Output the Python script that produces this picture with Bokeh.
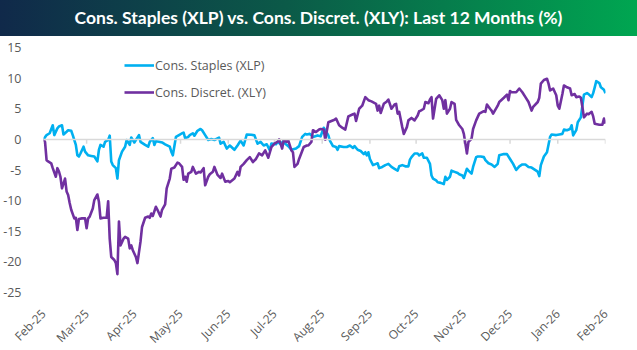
import pandas as pd
from bokeh.plotting import figure
from bokeh.models import (Range1d, FixedTicker, DatetimeTickFormatter, Span, Legend,
                          LegendItem, Div)
from bokeh.layouts import column
from bokeh.embed import file_html
from bokeh.resources import INLINE
import math

TITLE = "Cons. Staples (XLP) vs. Cons. Discret. (XLY): Last 12 Months (%)"
START = "2025-02-18"
END = "2026-02-18"
SERIES_NAMES = ["Cons. Staples (XLP)", "Cons. Discret. (XLY)"]
Y_TICKS = [15, 10, 5, 0, -5, -10, -15, -20, -25]
Y_TICK_LABELS = ["15", "10", "5", "0", "-5", "-10", "-15", "-20", "-25"]

# days since START, value (%)
xlp_days = [0, 2, 4, 6, 7, 9, 10, 12, 13, 15, 16, 18, 19, 21, 22, 23, 24, 26, 27, 29,
            31, 33, 35, 36, 37, 39, 40, 42, 43, 44, 45, 47, 48, 49, 51, 53, 54, 56, 57, 59,
            62, 63, 66, 68, 69, 71, 72, 73, 75, 77, 79, 82, 83, 84, 86, 88, 90, 91, 92, 94,
            95, 97, 98, 100, 102, 103, 105, 107, 109, 111, 114, 115, 117, 119, 121, 124, 126, 128, 130, 132,
            135, 137, 139, 141, 143, 145, 147, 148, 151, 152, 154, 156, 157, 159, 161, 164, 166, 168, 170, 171,
            173, 175, 178, 180, 182, 183, 185, 186, 188, 190, 191, 192, 195, 197, 199, 201, 202, 204, 206, 208,
            209, 210, 211, 212, 214, 216, 217, 218, 220, 222, 224, 226, 228, 230, 231, 233, 235, 237, 238, 239,
            241, 243, 244, 246, 247, 249, 251, 252, 253, 255, 256, 258, 260, 261, 262, 264, 265, 267, 269, 270,
            272, 273, 275, 276, 278, 279, 281, 282, 284, 286, 287, 289, 291, 293, 295, 296, 299, 301, 303, 305,
            307, 309, 311, 313, 315, 317, 320, 321, 322, 323, 325, 327, 329, 330, 333, 335, 337, 338, 340, 342,
            343, 344, 346, 347, 349, 350, 351, 353, 354, 356, 357, 358, 359, 361, 362, 364, 365]
xlp_vals = [0.0, 0.7, 1.0, 2.3, 0.7, 1.8, 2.1, 2.3, 0.8, 1.25, 1.5, 1.4, 0.7, -0.9, -2.6, -2.8, -2.3, -1.2, -2.0, -2.6,
            -2.7, -2.8, -3.6, -1.7, -0.9, -1.2, -0.4, -0.1, 0.6, -3.6, -4.2, -4.7, -6.4, -3.4, -2.0, -1.2, -0.1, -0.9, 0.3, -0.5,
            0.7, -0.4, -0.9, -1.2, -0.4, 0.2, -0.9, -0.3, -0.4, -0.5, -0.8, -1.2, -2.0, -2.6, 0.4, 0.7, 1.0, 1.1, 0.2, 0.4,
            0.7, 1.0, 0.6, 1.4, 1.7, 1.5, 0.7, -0.1, 0.05, -0.1, 0.3, -0.7, -0.4, -1.5, -1.0, -1.7, -1.0, -0.2, -1.0, 0.8,
            0.75, 0.65, -0.7, -0.4, -1.0, -0.8, -1.8, -0.7, -0.8, -0.4, -0.8, -0.2, -0.7, -1.1, -1.7, -1.5, -1.1, 0.4, 0.9, 0.8,
            0.9, 0.4, 0.65, 0.5, 1.9, 1.5, 0.65, -0.2, -1.1, -1.25, -1.7, -1.1, -1.25, -1.25, -1.0, -1.4, -1.1, -1.7, -1.9, -2.4,
            -2.1, -2.6, -2.1, -3.2, -4.2, -4.0, -3.9, -4.7, -4.5, -4.2, -4.0, -4.5, -4.8, -5.1, -4.4, -4.2, -4.4, -4.4, -3.3, -2.9,
            -2.3, -2.3, -2.6, -2.3, -3.0, -3.0, -4.0, -5.9, -6.4, -6.7, -7.0, -7.1, -7.3, -6.1, -6.6, -6.1, -5.1, -5.3, -5.5, -5.7,
            -5.9, -6.3, -4.8, -5.1, -5.6, -4.5, -2.9, -2.8, -2.8, -2.9, -3.4, -3.9, -4.1, -4.5, -4.0, -2.6, -2.4, -2.4, -3.2, -4.0,
            -5.0, -4.4, -4.1, -4.1, -4.5, -4.6, -5.1, -5.3, -6.0, -4.2, -2.8, -2.1, 0.4, 0.8, 0.7, 0.8, 0.9, 1.6, 1.5, 1.7,
            2.3, 0.65, 1.5, 2.8, 3.6, 5.5, 7.3, 7.55, 7.4, 6.9, 7.55, 8.5, 9.5, 9.2, 8.5, 8.1, 7.55]

xly_days = [0, 1, 2, 3, 5, 6, 8, 9, 10, 11, 12, 14, 15, 16, 17, 18, 20, 21, 22, 23,
            25, 27, 28, 29, 30, 32, 33, 35, 36, 37, 39, 41, 42, 43, 44, 46, 47, 48, 49, 50,
            52, 53, 55, 56, 57, 58, 60, 61, 63, 64, 66, 68, 69, 70, 71, 73, 74, 76, 77, 79,
            80, 82, 83, 85, 87, 88, 90, 91, 92, 93, 94, 96, 97, 99, 101, 102, 104, 105, 107, 108,
            110, 111, 113, 115, 116, 118, 120, 121, 124, 126, 127, 128, 130, 132, 134, 136, 138, 140, 142, 144,
            146, 148, 150, 152, 153, 155, 156, 158, 159, 161, 162, 163, 165, 166, 169, 171, 172, 174, 175, 177,
            179, 180, 182, 183, 185, 187, 189, 190, 192, 194, 196, 198, 201, 202, 203, 205, 207, 209, 211, 213,
            216, 217, 218, 219, 221, 223, 224, 226, 228, 229, 230, 231, 233, 234, 236, 237, 239, 241, 243, 244,
            245, 247, 248, 250, 251, 252, 253, 255, 256, 257, 259, 260, 261, 262, 264, 265, 267, 268, 270, 272,
            273, 274, 275, 276, 278, 279, 281, 283, 286, 287, 288, 290, 291, 292, 295, 296, 299, 301, 302, 303,
            304, 307, 309, 311, 313, 315, 317, 318, 321, 322, 323, 325, 327, 328, 329, 331, 333, 334, 335, 337,
            338, 340, 342, 343, 345, 346, 348, 349, 350, 351, 353, 354, 356, 357, 358, 361, 363, 364, 365]
xly_vals = [0.0, -0.4, -3.4, -3.6, -3.9, -4.7, -6.1, -4.7, -5.2, -6.1, -8.0, -6.4, -8.5, -9.1, -10.4, -11.5, -12.9, -12.8, -14.8, -13.0,
            -12.9, -12.9, -14.5, -12.9, -12.6, -11.3, -9.9, -9.0, -10.2, -12.9, -12.8, -12.8, -10.1, -16.2, -19.2, -19.7, -20.2, -22.0, -13.4, -17.3,
            -16.2, -15.9, -16.2, -17.8, -17.3, -18.1, -19.2, -20.2, -16.7, -14.3, -12.8, -12.6, -12.8, -12.1, -12.5, -11.0, -11.5, -12.6, -11.5, -10.6,
            -8.0, -6.4, -4.8, -4.6, -3.8, -3.9, -4.5, -6.6, -6.1, -6.9, -5.6, -5.3, -4.5, -5.6, -5.3, -5.4, -4.7, -7.5, -6.1, -5.7,
            -5.3, -4.5, -5.8, -6.3, -5.6, -6.9, -6.8, -7.0, -6.4, -5.3, -5.9, -4.5, -4.0, -3.4, -2.9, -3.7, -3.2, -2.3, -2.6, -1.8,
            -3.0, -1.25, -0.7, -0.4, 0.0, -1.5, -0.2, -0.4, -0.2, -1.8, -2.1, -4.5, -4.0, -3.2, -1.25, -1.0, -1.0, -0.4, 1.5, 1.2,
            1.6, 1.7, 1.6, -0.05, 2.8, 3.0, 3.2, 3.4, 2.3, 1.9, 1.6, 3.75, 4.1, 4.2, 3.0, 5.0, 5.5, 6.9, 6.4, 6.2,
            5.8, 4.7, 5.5, 4.3, 5.8, 6.2, 6.5, 5.0, 5.7, 5.8, 4.2, 4.5, 2.0, 0.9, 2.0, 3.1, 3.5, 3.1, 3.9, 4.6,
            4.7, 5.0, 6.1, 5.9, 6.5, 6.9, 3.4, 6.6, 6.9, 7.2, 6.4, 5.0, 6.4, 4.2, 5.0, 6.1, 5.8, 3.2, 2.3, 1.7,
            0.9, -0.7, -2.3, -0.4, 0.1, 1.7, 3.1, 4.2, 4.6, 4.5, 5.7, 5.0, 4.7, 4.2, 5.5, 6.1, 6.8, 7.3, 6.4, 7.9,
            7.7, 7.7, 8.3, 7.7, 6.9, 6.1, 4.7, 5.3, 6.1, 6.8, 9.1, 9.7, 9.9, 9.1, 8.0, 8.3, 7.2, 5.5, 5.0, 7.4,
            8.8, 8.5, 8.3, 7.2, 7.4, 6.9, 7.0, 6.8, 5.3, 3.6, 4.2, 4.1, 4.5, 3.75, 2.55, 2.4, 2.4, 3.4, 2.55]

start = pd.Timestamp(START)
xlp_dates = start + pd.to_timedelta(xlp_days, unit="D")
xly_dates = start + pd.to_timedelta(xly_days, unit="D")
month_ticks = pd.date_range(START, END, freq=pd.DateOffset(months=1))
tick_ms = [t.timestamp() * 1000 for t in month_ticks]

GREY = "#595959"

div = Div(text=TITLE, width=637, height=36, margin=0,
          styles={"background": "linear-gradient(to right, #10294a 0%, #0b5a48 45%, #00a651 100%)",
                  "color": "white", "font-family": "Lato", "font-weight": "bold",
                  "font-size": "17.5px", "text-align": "center", "line-height": "36px",
                  "width": "637px", "height": "36px", "white-space": "nowrap"})

p = figure(x_axis_type="datetime", output_backend="svg", toolbar_location=None,
           frame_width=562, frame_height=245, margin=0,
           min_border_left=43, min_border_right=32, min_border_top=11, min_border_bottom=58,
           x_range=Range1d(pd.Timestamp(START), pd.Timestamp(END)),
           y_range=Range1d(-25, 15))
p.outline_line_color = None
p.xgrid.visible = False
p.ygrid.visible = False
p.background_fill_color = "white"
p.border_fill_color = "white"

p.add_layout(Span(location=0, dimension="width", line_color="#D9D9D9", line_width=1.5))
p.segment(x0=month_ticks, y0=[0] * len(month_ticks), x1=month_ticks, y1=[-0.7] * len(month_ticks),
          line_color="#D9D9D9", line_width=1.5)

r1 = p.line(xlp_dates, xlp_vals, line_color="#00B0F0", line_width=2.6, line_join="round")
r2 = p.line(xly_dates, xly_vals, line_color="#7030A0", line_width=2.6, line_join="round")

p.yaxis.ticker = FixedTicker(ticks=Y_TICKS)
p.yaxis.major_label_overrides = {t: l for t, l in zip(Y_TICKS, Y_TICK_LABELS)}
p.yaxis.axis_line_color = None
p.yaxis.major_tick_line_color = None
p.yaxis.minor_tick_line_color = None
p.yaxis.major_label_standoff = 16
p.yaxis.major_label_text_font = "Open Sans"
p.yaxis.major_label_text_font_size = "12.5px"
p.yaxis.major_label_text_color = GREY

p.xaxis.ticker = FixedTicker(ticks=tick_ms)
fmt = "%b-%y"
p.xaxis.formatter = DatetimeTickFormatter(days=fmt, months=fmt, years=fmt, hours=fmt,
                                          minutes=fmt, seconds=fmt, milliseconds=fmt,
                                          microseconds=fmt, hourmin=fmt, minsec=fmt)
p.xaxis.major_label_orientation = math.pi / 4
p.xaxis.axis_line_color = None
p.xaxis.major_tick_line_color = None
p.xaxis.minor_tick_line_color = None
p.xaxis.major_label_standoff = 13
p.xaxis.major_label_text_font = "Open Sans"
p.xaxis.major_label_text_font_size = "12px"
p.xaxis.major_label_text_color = GREY

legend = Legend(items=[LegendItem(label=SERIES_NAMES[0], renderers=[r1]),
                       LegendItem(label=SERIES_NAMES[1], renderers=[r2])],
                location=(81, 190), padding=0, margin=0, spacing=7,
                glyph_width=30, glyph_height=20, label_standoff=1,
                label_text_font="Open Sans", label_text_font_size="12.5px",
                label_text_color=GREY, border_line_color=None,
                background_fill_alpha=0)
p.add_layout(legend)

layout = column(div, p, spacing=0, margin=0)
open("out.html", "w").write(file_html(layout, INLINE))
